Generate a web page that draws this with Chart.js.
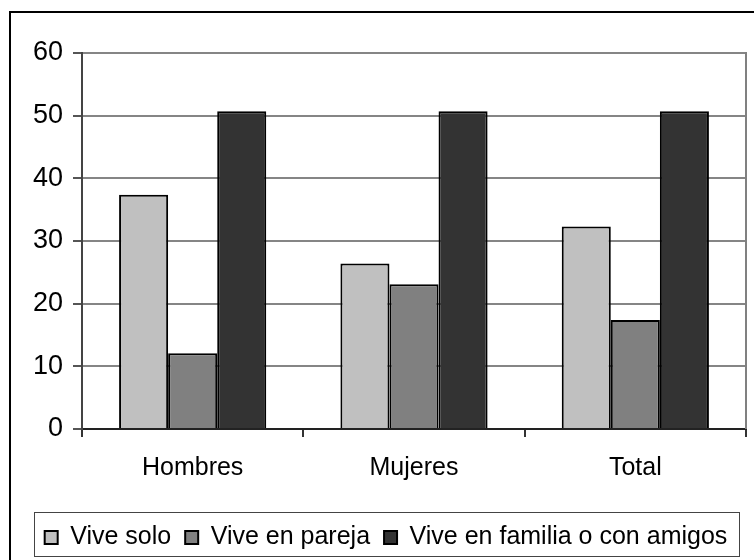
<!DOCTYPE html>
<html><head><meta charset="utf-8">
<script src="https://cdn.jsdelivr.net/npm/chart.js@4"></script>
<style>html,body{margin:0;padding:0;background:#fff;overflow:hidden}canvas{display:block}</style>
</head><body>
<canvas id="c" width="754" height="560"></canvas>
<script>
const categories = ['Hombres', 'Mujeres', 'Total'];
const seriesNames = ['Vive solo', 'Vive en pareja', 'Vive en familia o con amigos'];
const viveSolo = [37.4, 26.4, 32.3];
const vivePareja = [12.1, 23.1, 17.4];
const viveFamilia = [50.7, 50.7, 50.7];
const yMin = 0, yMax = 60, yStep = 10;
const fills = ['#c0c0c0', '#808080', '#333333'];

const FONT = '"Liberation Sans", Arial, sans-serif';

const framePlugin = {
  id: 'frames',
  afterLayout(chart) {
    // nudge legend to the right to match the reference legend box
    const lg = chart.legend;
    if (lg) { lg.left += 13; lg.right += 13; }
  },
  beforeDraw(chart) {
    const ctx = chart.ctx;
    ctx.save();
    ctx.fillStyle = '#fff';
    ctx.fillRect(0, 0, chart.width, chart.height);
    ctx.restore();
  },
  afterDraw(chart) {
    const ctx = chart.ctx;
    const a = chart.chartArea;
    ctx.save();
    ctx.strokeStyle = '#808080';
    ctx.lineWidth = 2;
    ctx.beginPath();
    ctx.moveTo(a.right, a.top - 1);
    ctx.lineTo(a.right, a.bottom);
    ctx.stroke();
    ctx.strokeStyle = '#000';
    ctx.lineWidth = 2;
    ctx.strokeRect(10, 12, chart.width + 20, chart.height + 20);
    const hb = chart.legend.legendHitBoxes;
    if (hb && hb.length) {
      let l = Infinity, r = -Infinity, t = Infinity, b = -Infinity;
      hb.forEach(h => { l = Math.min(l, h.left); r = Math.max(r, h.left + h.width); t = Math.min(t, h.top); b = Math.max(b, h.top + h.height); });
      ctx.strokeStyle = '#444';
      ctx.lineWidth = 1;
      ctx.strokeRect(Math.round(l - 11) + 0.5, Math.round(t - 13) + 0.5, Math.round(r - l + 22), Math.round(b - t + 19));
    }
    ctx.restore();
  }
};

const datasets = [viveSolo, vivePareja, viveFamilia].map((vals, i) => ({
  label: seriesNames[i],
  data: vals,
  backgroundColor: fills[i],
  borderColor: '#000',
  borderWidth: 2,
  categoryPercentage: 0.665,
  barPercentage: 1.0
}));

new Chart(document.getElementById('c'), {
  type: 'bar',
  data: { labels: categories, datasets },
  plugins: [framePlugin],
  options: {
    responsive: false,
    devicePixelRatio: 1,
    animation: false,
    layout: { padding: { left: 0, right: 8, top: 53, bottom: 0 } },
    plugins: {
      legend: {
        position: 'bottom',
        labels: {
          font: { family: FONT, size: 25 },
          color: '#000',
          boxWidth: 13,
          boxHeight: 13,
          padding: 14
        }
      },
      tooltip: { enabled: false }
    },
    scales: {
      x: {
        grid: { display: true, drawOnChartArea: false, tickLength: 8, tickColor: '#333', lineWidth: 2, offset: true },
        border: { display: true, color: '#222', width: 2 },
        ticks: { font: { family: FONT, size: 25 }, color: '#000', padding: 16 },
        afterFit(scale) { scale.height = 82; }
      },
      y: {
        min: yMin, max: yMax,
        grid: { color: '#858585', lineWidth: 2, tickLength: 9, tickColor: '#555' },
        border: { display: true, color: '#444', width: 2 },
        ticks: { stepSize: yStep, font: { family: FONT, size: 27 }, color: '#000', padding: 10 },
        afterFit(scale) { scale.width = 82; }
      }
    }
  }
});
</script>
</body></html>
